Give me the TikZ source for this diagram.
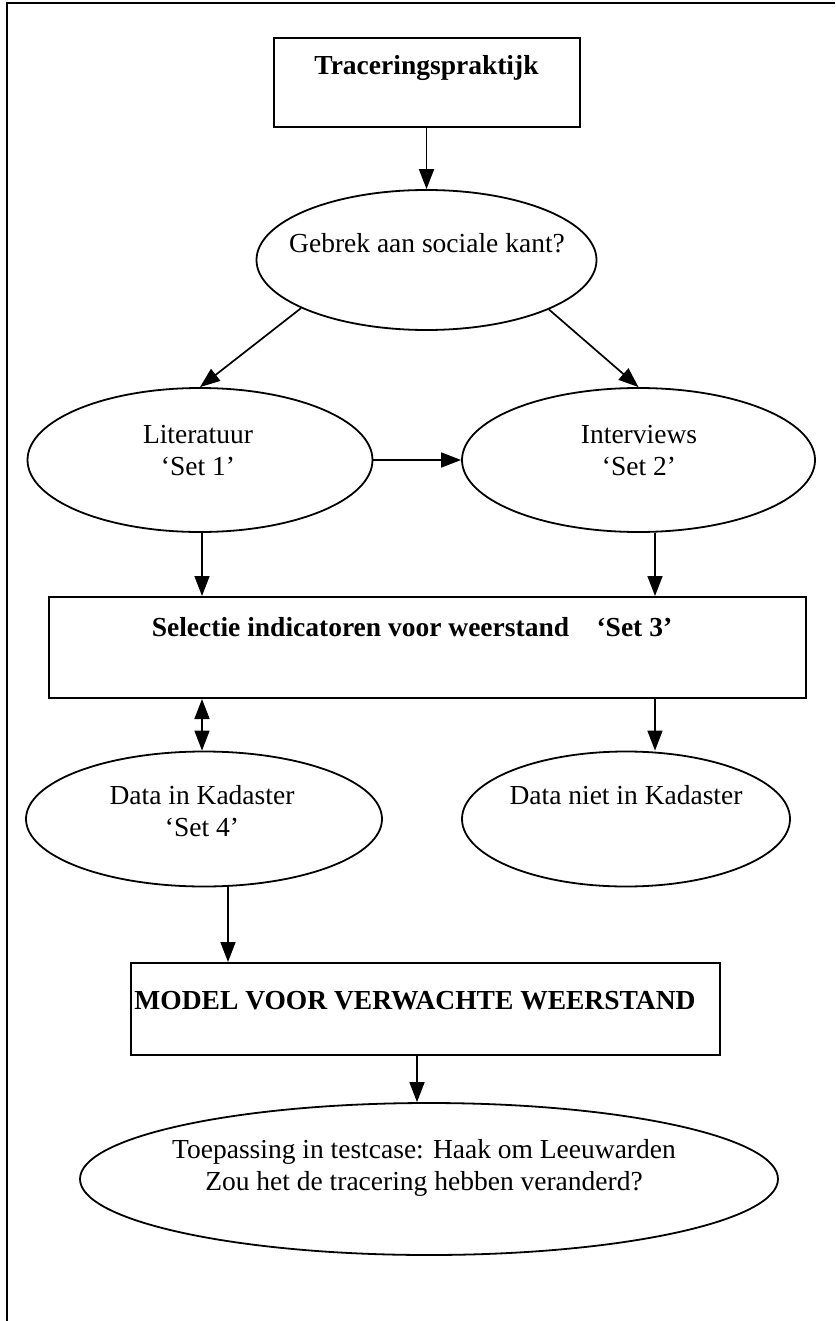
\documentclass[tikz,border=0pt]{standalone}
\usepackage{fontspec}
\setmainfont{Liberation Serif}
\usetikzlibrary{shapes.geometric,arrows.meta,calc}
\begin{document}
\begin{tikzpicture}[x=1pt,y=-1pt,
  boxnode/.style={draw,line width=2pt,rectangle,inner sep=0pt},
  ovalnode/.style={draw,line width=1.8pt,ellipse,inner sep=0pt},
  txt/.style={inner sep=0pt,align=center,font=\fontsize{27.5}{32}\selectfont},
  btxt/.style={inner sep=0pt,align=center,font=\fontsize{27.5}{32}\selectfont\bfseries},
  arr/.style={line width=1.7pt,-{Triangle[length=20pt,width=15pt]}},
  darr/.style={line width=1.7pt,{Triangle[length=20pt,width=15pt]}-{Triangle[length=20pt,width=15pt]}}]

\useasboundingbox (0,0) rectangle (835,1321);

% page frame: top and left edges
\draw[line width=2.5pt] (835,3) -- (7,3) -- (7,1321);

% shapes
\node[boxnode,minimum width=306,minimum height=89] (b1) at (426.5,82.5) {};
\node[btxt] (b1t) at (426.5,68) {Traceringspraktijk};

\node[ovalnode,minimum width=340,minimum height=140] (g) at (426.5,260) {};
\node[txt] (gt) at (427,243) {Gebrek aan sociale kant?};

\node[ovalnode,minimum width=345,minimum height=144] (lit) at (200,460) {};
\node[txt] (litt) at (198,451) {Literatuur\\‘Set 1’};

\node[ovalnode,minimum width=353,minimum height=144] (int) at (638.5,460) {};
\node[txt] (intt) at (639,451) {Interviews\\‘Set 2’};

\node[boxnode,minimum width=757,minimum height=101] (s3) at (427.5,647.5) {};
\node[btxt] (s3t) at (412,627) {Selectie indicatoren voor weerstand\quad ‘Set 3’};

\node[ovalnode,minimum width=356,minimum height=135] (dk) at (204,819) {};
\node[txt] (dkt) at (202,811) {Data in Kadaster\\‘Set 4’};

\node[ovalnode,minimum width=328,minimum height=135] (dn) at (626,819) {};
\node[txt] (dnt) at (626,795) {Data niet in Kadaster};

\node[boxnode,minimum width=589,minimum height=92] (m) at (425.5,1009) {};
\node[btxt] (mt) at (415,1001) {MODEL VOOR VERWACHTE WEERSTAND};

\node[ovalnode,minimum width=698,minimum height=152] (t) at (429,1179) {};
\node[txt] (tt) at (424,1168) {Toepassing in testcase: Haak om Leeuwarden\\Zou het de tracering hebben veranderd?};

% columns for the vertical connectors
\coordinate (c202) at (202,0);
\coordinate (c655) at (655,0);
\coordinate (c228) at (228,0);
\coordinate (c417) at (417,0);

% connectors
\draw[arr] (b1.south) -- (g.north);
\draw[arr] (g.201) -- (lit.north);
\draw[arr] (g.-22) -- (int.north);
\draw[arr] (lit.east) -- (int.west);
\draw[arr] (lit.south -| c202) -- (s3.north -| c202);
\draw[arr] (int.south -| c655) -- (s3.north -| c655);
\draw[darr] (s3.south -| c202) -- (dk.north -| c202);
\draw[arr] (s3.south -| c655) -- (dn.north -| c655);
\draw[arr] (dk.south -| c228) -- (m.north -| c228);
\draw[arr] (m.south -| c417) -- (t.north -| c417);
\end{tikzpicture}
\end{document}
